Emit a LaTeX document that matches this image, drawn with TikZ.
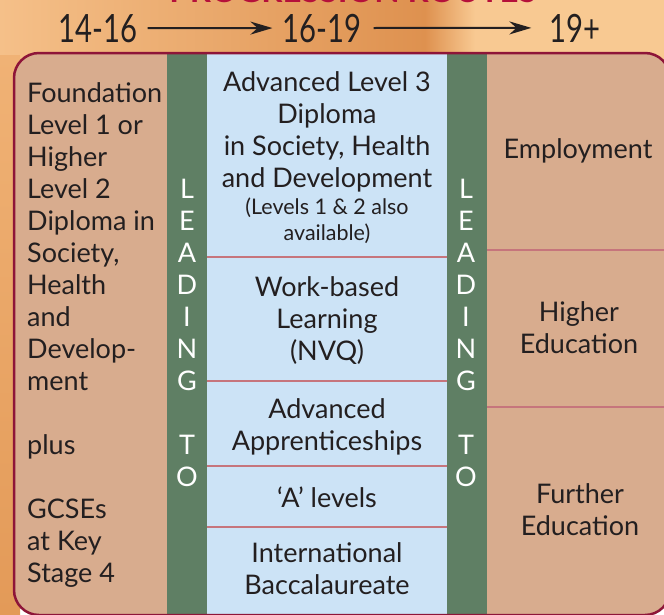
\documentclass[tikz,border=0pt]{standalone}
\usepackage{fontspec}
\setmainfont{Lato}
\usetikzlibrary{arrows.meta}
\definecolor{tanfill}{HTML}{D8AC8E}
\definecolor{colgreen}{HTML}{5F7F64}
\definecolor{colblue}{HTML}{CCE3F6}
\definecolor{border}{HTML}{8E1538}
\definecolor{divider}{HTML}{C6757C}
\definecolor{ink}{HTML}{231F20}
\definecolor{titlered}{HTML}{B5103A}
\definecolor{bgA}{HTML}{F5C089}
\definecolor{bgB}{HTML}{DE914F}
\definecolor{bgC}{HTML}{F8C992}
\definecolor{bgD}{HTML}{F0B275}
\definecolor{bgE}{HTML}{E39A58}
\begin{document}
\begin{tikzpicture}[x=1pt,y=-1pt,
  txt/.style={inner sep=0pt, text=ink, font=\fontsize{27}{32}\selectfont, align=center},
  small/.style={inner sep=0pt, text=ink, font=\fontsize{21.5}{26}\selectfont, align=center},
  lead/.style={inner sep=0pt, text=white, font=\fontsize{27}{32}\selectfont, align=center},
  head/.style={inner sep=0pt, text=ink, font=\fontsize{39}{40}\selectfont},
  arr/.style={draw=ink, line width=2pt, -{Stealth[length=22pt,width=13pt]}},
  divline/.style={draw=divider, line width=2.5pt}]
\useasboundingbox (0,0) rectangle (664,614);
\clip (0,0) rectangle (664,614);
% background
\shade[left color=bgA, right color=bgB] (0,0) rectangle (425,60);
\shade[left color=bgB, right color=bgC] (425,0) rectangle (475,60);
\fill[bgC] (475,0) rectangle (664,60);
\shade[top color=bgD, bottom color=bgE] (0,55) rectangle (20,614);
% title (cut off at top)
\node[inner sep=0pt, text=titlered, font=\bfseries\fontsize{33}{33}\selectfont, anchor=base] (title) at (353,2.5) {PROGRESSION ROUTES};
% headings
\node[head, anchor=base] (h1) at (98,42) {\scalebox{0.75}[1]{14-16}};
\node[head, anchor=base] (h2) at (322,42) {\scalebox{0.75}[1]{16-19}};
\node[head, anchor=base] (h3) at (575,42) {\scalebox{0.75}[1]{19+}};
\draw[arr, shorten <=10pt, shorten >=10pt] (h1) -- (h2);
\draw[arr, shorten <=12pt, shorten >=18pt] (h2) -- (h3);
% main box
\fill[tanfill, rounded corners=25pt] (14,53) rectangle (670,615);
\fill[colgreen] (167,53) rectangle (207,615);
\fill[colblue] (207,53) rectangle (447,615);
\fill[colgreen] (447,53) rectangle (487,615);
\draw[divline] (207,257) -- (447,257);
\draw[divline] (207,381) -- (447,381);
\draw[divline] (207,466) -- (447,466);
\draw[divline] (207,527) -- (447,527);
\draw[divline] (487,250) -- (670,250);
\draw[divline] (487,407) -- (670,407);
\draw[draw=border, line width=2.5pt, rounded corners=25pt] (14,53) rectangle (670,615);
% left column (anchor = baseline of last line)
\node[txt, align=left, anchor=base west] (left) at (27,582) {Foundation\\Level 1 or\\Higher\\Level 2\\Diploma in\\Society,\\Health\\and\\Develop-\\ment\\[32pt]plus\\[32pt]GCSEs\\at Key\\Stage 4};
% leading to
\node[lead, anchor=base] (lead1) at (187,486) {L\\E\\A\\D\\I\\N\\G\\[32pt]T\\O};
\node[lead, anchor=base] (lead2) at (466,486) {L\\E\\A\\D\\I\\N\\G\\[32pt]T\\O};
% centre column
\node[txt, anchor=base] (adv) at (327,187) {Advanced Level 3\\Diploma\\in Society, Health\\and Development};
\node[small, anchor=base] (levels) at (327,240) {(Levels 1 \& 2 also\\available)};
\node[txt, anchor=base] (work) at (327,360) {Work-based\\Learning\\(NVQ)};
\node[txt, anchor=base] (appr) at (327,450) {Advanced\\Apprenticeships};
\node[txt, anchor=base] (alev) at (327,507) {‘A’ levels};
\node[txt, anchor=base] (ib) at (327,594) {International\\Baccalaureate};
% right column
\node[txt, anchor=base] (emp) at (578,158) {Employment};
\node[txt, anchor=base] (he) at (579,353) {Higher\\Education};
\node[txt, anchor=base] (fe) at (580,535) {Further\\Education};
\end{tikzpicture}
\end{document}
